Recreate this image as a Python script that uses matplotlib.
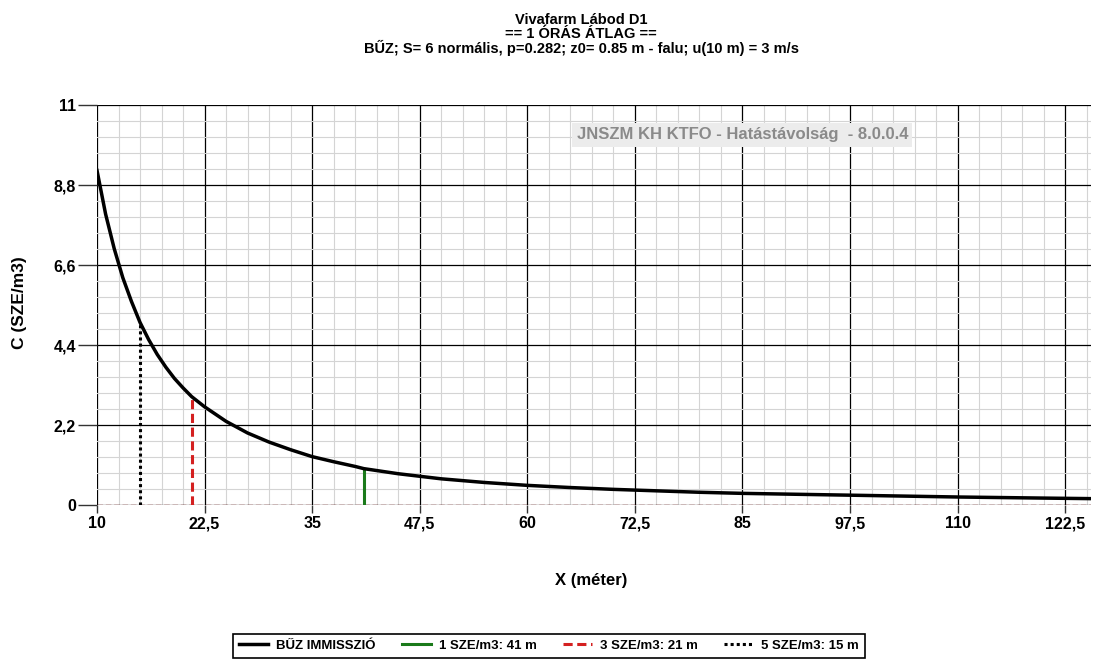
import numpy as np
import matplotlib
matplotlib.use('Agg')
import matplotlib.pyplot as plt
from matplotlib.ticker import MultipleLocator, FixedLocator
from matplotlib import font_manager

plt.rcParams['font.family'] = ['Liberation Sans', 'DejaVu Sans']

# adatok
dist = [10, 11, 12, 13, 14, 15, 16, 17, 18, 19, 20, 21, 22.5, 25, 27.5, 30,
        32.5, 35, 37.5, 40, 41, 45, 50, 55, 60, 65, 70, 75, 80, 85, 90, 95,
        100, 110, 120, 125.5]
conc = [9.2, 8.0, 7.05, 6.25, 5.6, 5.02, 4.55, 4.14, 3.79, 3.48, 3.22, 2.98,
        2.70, 2.30, 1.98, 1.73, 1.52, 1.33, 1.19, 1.06, 1.0, 0.86, 0.72, 0.62,
        0.54, 0.48, 0.43, 0.39, 0.35, 0.32, 0.30, 0.28, 0.26, 0.22, 0.19, 0.175]

thr_labels = ['1 SZE/m3: 41 m', '3 SZE/m3: 21 m', '5 SZE/m3: 15 m']
thr_x = [41, 21, 15]
thr_y = [1, 3, 5]
thr_col = ['#1a7a1a', '#d42020', 'black']
thr_ls = ['-', (0, (3, 1.5)), (0, (1, 1))]

x_ticks = [10, 22.5, 35, 47.5, 60, 72.5, 85, 97.5, 110, 122.5]
y_ticks = [0, 2.2, 4.4, 6.6, 8.8, 11]

names = {f.name for f in font_manager.fontManager.ttflist}
leg_family = ['Liberation Sans Narrow'] if 'Liberation Sans Narrow' in names else ['Liberation Sans']
leg_size = 11 if 'Liberation Sans Narrow' in names else 9.5

fig = plt.figure(figsize=(10.94, 6.59), dpi=100)
ax = fig.add_axes([97 / 1094, 1 - 505 / 659, (1091 - 97) / 1094, 400 / 659])

ax.plot(dist, conc, color='black', lw=2.5, label='BŰZ IMMISSZIÓ', zorder=5)
for x, y, c, ls, lab in zip(thr_x, thr_y, thr_col, thr_ls, thr_labels):
    ax.plot([x, x], [0, y], color=c, ls=ls, lw=2.2, label=lab, zorder=4)
ax.plot([10, 125.5], [0, 0], color='#7a1a1a', ls=(0, (4, 2)), lw=1, zorder=3)

ax.set_xlim(10, 125.5)
ax.set_ylim(0, 11)
ax.xaxis.set_major_locator(FixedLocator(x_ticks))
ax.yaxis.set_major_locator(FixedLocator(y_ticks))
ax.xaxis.set_minor_locator(MultipleLocator(2.5))
ax.yaxis.set_minor_locator(MultipleLocator(0.44))
ax.set_xticklabels([f'{v:g}'.replace('.', ',') for v in x_ticks],
                   fontweight='bold', fontsize=11.5)
ax.set_yticklabels([f'{v:g}'.replace('.', ',') for v in y_ticks],
                   fontweight='bold', fontsize=11.5)
ax.tick_params(axis='x', which='major', length=6, width=1, color='#333333', pad=2)
ax.tick_params(axis='y', which='major', length=14, width=1, color='#333333', pad=1)
ax.tick_params(which='minor', length=0)
ax.grid(which='major', color='black', lw=0.9)
ax.grid(which='minor', color='#d4d4d4', lw=0.8)
ax.set_axisbelow(True)
for s in ax.spines.values():
    s.set_visible(False)

ax.set_xlabel('X (méter)', fontweight='bold', fontsize=12)
ax.xaxis.set_label_coords(0.497, -0.1875)
ax.xaxis.label.set_va('center')
ax.set_ylabel('C (SZE/m3)', fontweight='bold', fontsize=12.5)
ax.yaxis.set_label_coords(-0.0775, 0.505)
ax.yaxis.label.set_va('center')

title_lines = ['Vivafarm Lábod D1', '== 1 ÓRÁS ÁTLAG ==',
               'BŰZ; S= 6 normális, p=0.282; z0= 0.85 m - falu; u(10 m) = 3 m/s']
for txt, yp in zip(title_lines, [20, 34, 48]):
    fig.text(581 / 1094, 1 - yp / 659, txt, ha='center', va='center',
             fontweight='bold', fontsize=10.5)

ax.text(0.816, 0.925, 'JNSZM KH KTFO - Hatástávolság  - 8.0.0.4',
        transform=ax.transAxes, ha='right', va='center', color='#8a8a8a',
        fontweight='bold', fontsize=12, zorder=6,
        bbox=dict(facecolor='#ececec', edgecolor='none', pad=3))

leg = fig.legend(loc='upper center', bbox_to_anchor=(549 / 1094, 1 - 627 / 659), ncol=4,
                 fancybox=False, edgecolor='black', framealpha=1,
                 prop={'weight': 'bold', 'size': leg_size, 'family': leg_family},
                 handlelength=2.2, columnspacing=2.0, borderpad=0.45, handletextpad=0.6)
leg.get_frame().set_linewidth(1.2)

fig.savefig('out.png', dpi=100)
